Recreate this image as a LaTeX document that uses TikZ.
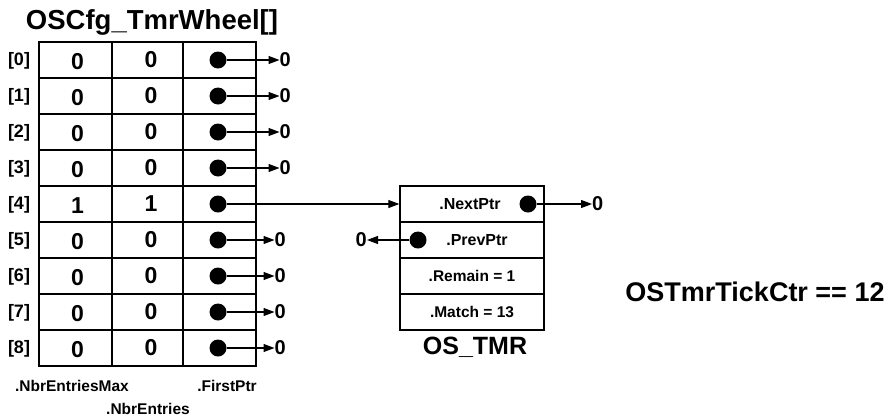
\documentclass[tikz,border=0pt]{standalone}
\usepackage{fontspec}
\setmainfont{Liberation Sans}
\usetikzlibrary{arrows.meta}
\begin{document}
\begin{tikzpicture}[x=1pt,y=-1pt,
 every node/.style={font=\bfseries},
 cell/.style={draw,line width=1.8pt,minimum height=36pt,inner sep=0pt},
 digit/.style={inner sep=0pt,font=\bfseries\fontsize{23}{25}\selectfont},
 trow/.style={draw,line width=1.3pt,minimum width=144pt,minimum height=36pt,inner sep=0pt,font=\bfseries\fontsize{15.5}{17}\selectfont},
 dot/.style={circle,fill=black,minimum size=17pt,inner sep=0pt},
 ptr/.style={line width=1.1pt,-{Triangle[length=11pt,width=8pt]}},
 big/.style={font=\bfseries\fontsize{25}{28}\selectfont},
 idx/.style={font=\bfseries\fontsize{18}{20}\selectfont},
 small/.style={font=\bfseries\fontsize{15.5}{17}\selectfont},
 zero/.style={inner sep=0pt,font=\bfseries\fontsize{20}{22}\selectfont},
 ]
\useasboundingbox (0,0) rectangle (890,418);
\node[big,font=\bfseries\fontsize{27.5}{30}\selectfont] (title) at (152,22) {OSCfg\_TmrWheel[]};
\foreach \i/\a/\b in {0/0/0,1/0/0,2/0/0,3/0/0,4/1/1,5/0/0,6/0/0,7/0/0,8/0/0}{
  \pgfmathsetmacro{\y}{60+36*\i}
  \node[cell,minimum width=73pt] (a\i) at (75.5,\y) {};
  \node[cell,minimum width=71pt] (b\i) at (147.5,\y) {};
  \node[cell,minimum width=73pt] (c\i) at (219.5,\y) {};
  \node[digit] (va\i) at (77.5,\y+1.5) {\a};
  \node[digit] (vb\i) at (151,\y-0.5) {\b};
  \node[idx] (l\i) at (19,\y+1) {[\i]};
  \node[dot] (d\i) at (218,\y) {};
}
\foreach \i/\zx in {0/285,1/285,2/285,3/285,5/280,6/280,7/280,8/280}{
  \pgfmathsetmacro{\y}{60+36*\i}
  \node[zero,anchor=west] (z\i) at (\zx-5.5,\y) {0};
  \draw[ptr] (d\i) -- (z\i.west);
}
\node[small] (nemax) at (72,386) {.NbrEntriesMax};
\node[small] (fptr) at (227,386) {.FirstPtr};
\node[small] (nent) at (148,409) {.NbrEntries};
% OS_TMR
\node[trow,font=\bfseries\fontsize{16}{18}\selectfont] (next) at (472,204) {\hspace*{-4pt}.NextPtr};
\node[trow,font=\bfseries\fontsize{16}{18}\selectfont] (prev) at (472,240) {\hspace*{10pt}.PrevPtr};
\node[trow] (remain) at (472,276) {.Remain = 1};
\node[trow] (match) at (472,312) {.Match = 13};
\node[dot] (nd) at (528,204) {};
\node[dot] (pd) at (418,240) {};
\node[zero,anchor=west] (nz) at (592,204) {0};
\node[zero,anchor=east] (pz) at (367,240) {0};
\draw[ptr] (nd) -- (nz.west);
\draw[ptr] (pd) -- (pz.east);
\draw[ptr] (d4) -- (next.west);
\node[big] (ostmr) at (475,347) {OS\_TMR};
\node[big,font=\bfseries\fontsize{27}{30}\selectfont] (tick) at (755,292) {OSTmrTickCtr == 12};
\end{tikzpicture}
\end{document}
